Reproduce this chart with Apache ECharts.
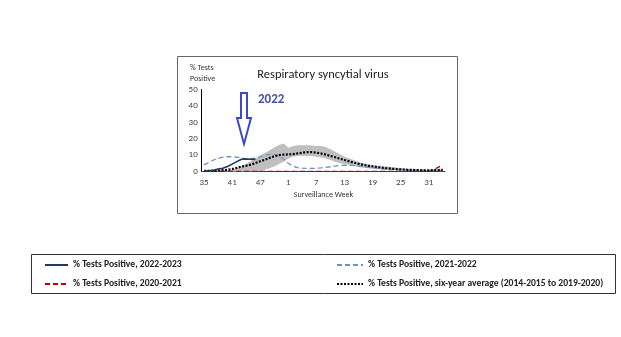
<!DOCTYPE html>
<html><head><meta charset="utf-8">
<script src="https://cdn.jsdelivr.net/npm/echarts@6/dist/echarts.min.js"></script>
<style>html,body{margin:0;padding:0;background:#fff;}#c{width:621px;height:337px;}</style>
</head><body><div id="c"></div>
<script>
var weeks = ['35','36','37','38','39','40','41','42','43','44','45','46','47','48','49','50','51','52',
  '1','2','3','4','5','6','7','8','9','10','11','12','13','14','15','16','17','18','19','20','21','22','23','24','25','26','27','28','29','30','31','32','33','34'];
var yTicks = [0,10,20,30,40,50];
var season2022 = [0.3,0.5,0.8,1.5,2,3,4.5,6,7.5,7.6,7.5,7.4];
var season2021 = [4,5.5,7,8,8.7,9,9,8.7,8.2,7.8,7.8,8.2,9,10,10.5,10.5,9.5,7.5,5,3.2,2.3,2,1.9,1.9,2,2.2,2.5,2.9,3.3,3.6,3.8,3.8,3.6,3.3,3,2.6,2.3,2,1.7,1.5,1.3,1.2,1,0.9,0.8,0.7,0.6,0.6,0.5,0.5,0.5,0.5];
var season2020 = [0.1,0.1,0.1,0.1,0.1,0.1,0.1,0.1,0.1,0.1,0.1,0.1,0.1,0.1,0.1,0.1,0.1,0.1,0.1,0.1,0.1,0.1,0.1,0.1,0.1,0.1,0.1,0.1,0.1,0.1,0.1,0.1,0.1,0.1,0.1,0.1,0.1,0.1,0.1,0.1,0.1,0.1,0.1,0.1,0.1,0.1,0.1,0.2,0.3,1,2.5,4];
var sixYearAvg = [0.4,0.4,0.5,0.6,0.8,1,1.5,2.2,3,3.5,4.2,5.2,6.2,7.2,8.3,9.3,10,10.3,10.4,10.6,11,11.5,11.8,11.8,11.5,11,10.3,9.5,8.7,7.8,7,6.2,5.4,4.7,4,3.5,3.1,2.7,2.3,2,1.7,1.5,1.3,1.1,1,0.9,0.8,0.7,0.7,0.8,0.9,1];
var rangeLow = [0,0,0,0,0,0,0,0,0,0,0.1,0.2,0.3,1,2,3,4.5,6,8,9,9.5,9.5,9.5,9.5,9,8.5,8,7,6,5,4.5,4,3.3,2.8,2.3,2,1.7,1.4,1.2,1,0.8,0.7,0.6,0.5,0.4,0.4,0.4,0.4,0.4,0.4,0.4,0.4];
var rangeHigh = [0.5,0.5,0.6,0.7,0.8,0.9,1,2,3.2,4.8,6.4,8,9.7,11.3,13,14.6,16.2,17,14.5,15.5,16,16,16,15.8,15.5,15.5,15,13.5,12,10.5,9,8,7,6,5,4.5,4,3.7,3.4,3,2.7,2.4,2,1.8,1.5,1.3,1.1,1,1,1,1.2,1.5];
var names = ['% Tests Positive, 2022-2023','% Tests Positive, 2021-2022','% Tests Positive, 2020-2021','% Tests Positive, six-year average (2014-2015 to 2019-2020)'];

var rangeDiff = rangeHigh.map(function(v,i){return +(v - rangeLow[i]).toFixed(2);});
var FONT = 'Carlito, Lato, sans-serif';
var chart = echarts.init(document.getElementById('c'), null, {renderer:'canvas'});
var legendText = {fontSize:9.6, fontWeight:'bold', color:'#222', fontFamily:FONT};
chart.setOption({
  animation:false,
  backgroundColor:'#fff',
  title:{text:'Respiratory syncytial virus', left:318, top:63, textAlign:'center',
    textStyle:{fontSize:12.5, fontWeight:'normal', color:'#222', fontFamily:FONT}},
  grid:{left:201.7, top:89.5, width:243.4, height:82, containLabel:false},
  xAxis:{type:'category', data:weeks, boundaryGap:true,
    name:'Surveillance Week', nameLocation:'middle', nameGap:19,
    nameTextStyle:{fontSize:8, color:'#333', fontFamily:FONT},
    axisLine:{lineStyle:{color:'#404040', width:1}}, axisTick:{show:false},
    axisLabel:{interval:5, fontSize:9, color:'#444', margin:7, fontFamily:FONT}},
  yAxis:{type:'value', min:yTicks[0], max:yTicks[yTicks.length-1], interval:10,
    axisLine:{show:true, lineStyle:{color:'#000', width:1}}, axisTick:{show:false},
    splitLine:{show:false},
    axisLabel:{fontSize:9, color:'#444', margin:4, fontFamily:FONT}},
  legend:[
    {data:[names[0],names[2]], orient:'vertical', left:44, top:260, padding:0, itemGap:9,
     itemWidth:23, itemHeight:8, textStyle:legendText, itemStyle:{opacity:0}, selectedMode:false},
    {data:[names[1],names[3]], orient:'vertical', left:336, top:260, padding:0, itemGap:9,
     itemWidth:26, itemHeight:8, textStyle:legendText, itemStyle:{opacity:0}, selectedMode:false}
  ],
  graphic:[
    {type:'rect', shape:{x:177.5, y:56.5, width:280, height:157}, style:{fill:null, stroke:'#666', lineWidth:1}, silent:true, z:-1},
    {type:'rect', shape:{x:31.5, y:254.5, width:584, height:39}, style:{fill:null, stroke:'#333', lineWidth:1}, silent:true},
    {type:'text', left:190, top:62, style:{text:'% Tests\nPositive', fontSize:8, lineHeight:11, fill:'#333', fontFamily:FONT}},
    {type:'polygon', shape:{points:[[241,93],[247,93],[247,118],[251,118],[244,144],[237,118],[241,118]]},
     style:{fill:'#fff', stroke:'#3F48CC', lineWidth:2}, z:100},
    {type:'text', left:258, top:93, style:{text:'2022', fontSize:13, fontWeight:'bold', fill:'#4352B8', fontFamily:FONT}, z:100}
  ],
  series:[
    {name:'rangeBase', type:'line', data:rangeLow, stack:'range', symbol:'none', lineStyle:{opacity:0}, silent:true, z:1},
    {name:'rangeBand', type:'line', data:rangeDiff, stack:'range', symbol:'none', lineStyle:{opacity:0},
     areaStyle:{color:'#BFBFBF', opacity:1}, silent:true, z:1},
    {name:names[2], type:'line', data:season2020, symbol:'none', color:'#C00000',
     lineStyle:{color:'#C00000', width:1.3, type:[5,3]}, z:3},
    {name:names[1], type:'line', data:season2021, symbol:'none', color:'#6E93C6',
     lineStyle:{color:'#6E93C6', width:1.3, type:[5,3]}, z:3},
    {name:names[3], type:'line', data:sixYearAvg, symbol:'none', color:'#000',
     lineStyle:{color:'#000', width:2.2, type:[2,1.5]}, z:4},
    {name:names[0], type:'line', data:season2022, symbol:'none', color:'#1F3864',
     lineStyle:{color:'#1F3864', width:1.6}, z:5}
  ]
});
</script></body></html>
